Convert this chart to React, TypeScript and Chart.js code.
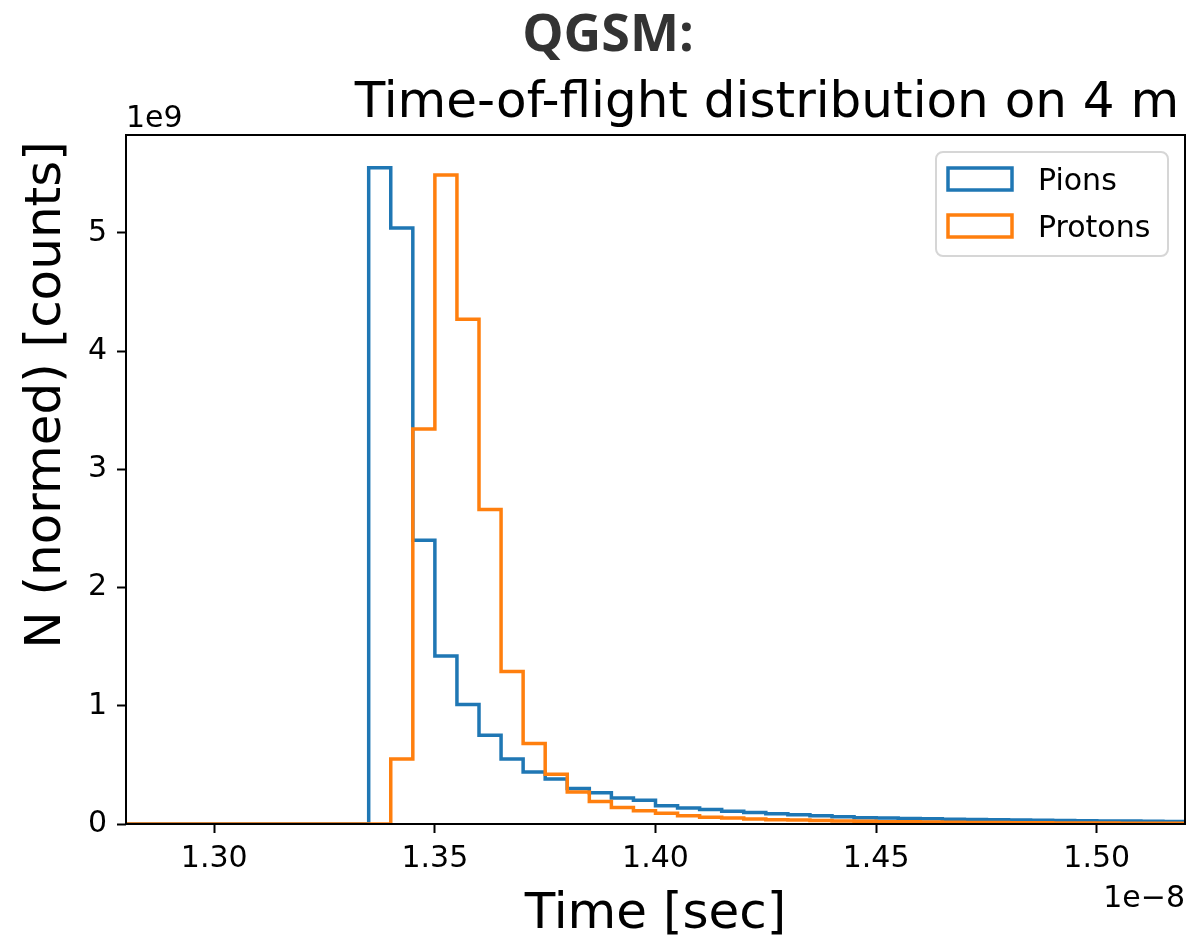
import { useEffect, useRef } from 'react';
import { Chart, registerables } from 'chart.js';

Chart.register(...registerables);

// Histogram bins (x in units of 1e-8 s)
const binEdgeStart = 1.28;
const binWidth = 0.005;

// Counts per bin (units of 1e9), bins from 1.280 to 1.520
const pionCounts = [
  0, 0, 0, 0, 0, 0, 0, 0, 0, 0, 0,
  5.55, 5.04, 2.40, 1.42, 1.01, 0.75, 0.55, 0.44, 0.38, 0.30,
  0.265, 0.22, 0.20, 0.155, 0.135, 0.122, 0.107, 0.098, 0.086, 0.079,
  0.070, 0.062, 0.053, 0.050, 0.047, 0.044, 0.041, 0.038, 0.036, 0.034,
  0.032, 0.030, 0.028, 0.026, 0.025, 0.024, 0.022,
];
const protonCounts = [
  0, 0, 0, 0, 0, 0, 0, 0, 0, 0, 0, 0,
  0.55, 3.34, 5.49, 4.27, 2.66, 1.29, 0.68, 0.42, 0.27, 0.19,
  0.14, 0.113, 0.09, 0.07, 0.057, 0.050, 0.043, 0.037, 0.033, 0.029,
  0.026, 0.023, 0.020, 0.018, 0.016, 0.015, 0.013, 0.012, 0.011, 0.010,
  0.009, 0.009, 0.008, 0.007, 0.007, 0.006,
];

const seriesNames = ['Pions', 'Protons'];
const seriesColors = ['#1f77b4', '#ff7f0e'];
const xRange = [1.28, 1.52];
const xTicks = [1.30, 1.35, 1.40, 1.45, 1.50];
const yTicks = [0, 1, 2, 3, 4, 5];

const titleLine1 = 'QGSM:';
const titleLine2 = 'Time-of-flight distribution on 4 m';
const xLabel = 'Time [sec]';
const yLabel = 'N (normed) [counts]';
const xOffsetText = '1e\u22128';
const yOffsetText = '1e9';

const FONT = '"DejaVu Sans", sans-serif';

function stepPoints(counts: number[]) {
  const pts = counts.map((c, i) => ({ x: binEdgeStart + i * binWidth, y: c }));
  const end = binEdgeStart + counts.length * binWidth;
  pts.push({ x: end, y: counts[counts.length - 1] });
  pts.push({ x: end, y: 0 });
  return pts;
}

const decorPlugin = {
  id: 'decor',
  afterDatasetsDraw(chart: any) {
    const { ctx, chartArea: a } = chart;
    ctx.save();
    ctx.strokeStyle = '#000';
    ctx.lineWidth = 2;
    ctx.strokeRect(a.left, a.top, a.right - a.left, a.bottom - a.top);
    ctx.restore();
  },
  afterDraw(chart: any) {
    const { ctx, chartArea: a } = chart;
    ctx.save();
    ctx.fillStyle = '#000';
    ctx.textBaseline = 'alphabetic';

    // offset texts
    ctx.font = `30px ${FONT}`;
    ctx.textAlign = 'left';
    ctx.fillText(yOffsetText, a.left, 127);
    ctx.textAlign = 'right';
    ctx.fillText(xOffsetText, a.right, 907);

    // title
    ctx.textAlign = 'center';
    ctx.fillStyle = '#333333';
    ctx.font = `bold 52px "Open Sans", "Noto Sans", sans-serif`;
    ctx.fillText(titleLine1, 608, 51);
    ctx.fillStyle = '#000';
    ctx.font = `50px ${FONT}`;
    ctx.fillText(titleLine2, 767, 117);

    // axis labels
    ctx.fillText(xLabel, (a.left + a.right) / 2, 928);
    ctx.save();
    ctx.translate(60, 395);
    ctx.rotate(-Math.PI / 2);
    ctx.fillText(yLabel, 0, 0);
    ctx.restore();

    // legend
    const lx = 936, ly = 152, lw = 232, lh = 104;
    ctx.beginPath();
    ctx.roundRect(lx, ly, lw, lh, 7);
    ctx.fillStyle = 'rgba(255,255,255,0.8)';
    ctx.fill();
    ctx.strokeStyle = '#d6d6d6';
    ctx.lineWidth = 2;
    ctx.stroke();
    ctx.font = `30px ${FONT}`;
    ctx.textAlign = 'left';
    ctx.textBaseline = 'middle';
    seriesNames.forEach((name, i) => {
      const cy = 179 + i * 47;
      ctx.strokeStyle = seriesColors[i];
      ctx.lineWidth = 3.5;
      ctx.strokeRect(948, cy - 11, 64, 22);
      ctx.fillStyle = '#000';
      ctx.fillText(name, 1038, cy + 3);
    });
    ctx.restore();
  },
};

export default function App() {
  const ref = useRef<HTMLCanvasElement | null>(null);
  useEffect(() => {
    document.body.style.margin = '0';
    const canvas = ref.current!;
    const yMax = Math.max(...pionCounts, ...protonCounts) * 1.05;
    const chart = new Chart(canvas, {
      type: 'line',
      data: {
        datasets: [
          {
            label: seriesNames[0],
            data: stepPoints(pionCounts),
            borderColor: seriesColors[0],
            borderWidth: 3.5,
            stepped: 'before',
            pointRadius: 0,
            fill: false,
            borderJoinStyle: 'miter',
            borderCapStyle: 'butt',
            order: 1,
          },
          {
            label: seriesNames[1],
            data: stepPoints(protonCounts),
            borderColor: seriesColors[1],
            borderWidth: 3.5,
            stepped: 'before',
            pointRadius: 0,
            fill: false,
            borderJoinStyle: 'miter',
            borderCapStyle: 'butt',
            order: 0,
          },
        ],
      },
      options: {
        responsive: false,
        animation: false,
        events: [],
        layout: { padding: { left: 0, right: 3, top: 135, bottom: 0 } },
        plugins: {
          legend: { display: false },
          title: { display: false },
          tooltip: { enabled: false },
        },
        scales: {
          x: {
            type: 'linear',
            min: xRange[0],
            max: xRange[1],
            afterBuildTicks: (s: any) => {
              s.ticks = xTicks.map((v) => ({ value: v }));
            },
            afterFit: (s: any) => {
              s.height = 114;
            },
            ticks: {
              autoSkip: false,
              maxRotation: 0,
              minRotation: 0,
              padding: 8,
              color: '#000',
              font: { family: FONT, size: 30 },
              callback: (v: any) => Number(v).toFixed(2),
            },
            grid: {
              drawOnChartArea: false,
              drawTicks: true,
              tickLength: 9,
              tickWidth: 2,
              tickColor: '#000',
            },
            border: { display: false },
          },
          y: {
            type: 'linear',
            min: 0,
            max: yMax,
            afterBuildTicks: (s: any) => {
              s.ticks = yTicks.map((v) => ({ value: v }));
            },
            afterFit: (s: any) => {
              s.width = 126;
            },
            ticks: {
              autoSkip: false,
              padding: 10,
              color: '#000',
              font: { family: FONT, size: 30 },
              callback: (v: any) => String(v),
            },
            grid: {
              drawOnChartArea: false,
              drawTicks: true,
              tickLength: 9,
              tickWidth: 2,
              tickColor: '#000',
            },
            border: { display: false },
          },
        },
      },
      plugins: [decorPlugin],
    } as any);
    return () => chart.destroy();
  }, []);
  return <canvas ref={ref} width={1188} height={938} style={{ display: 'block' }} />;
}
